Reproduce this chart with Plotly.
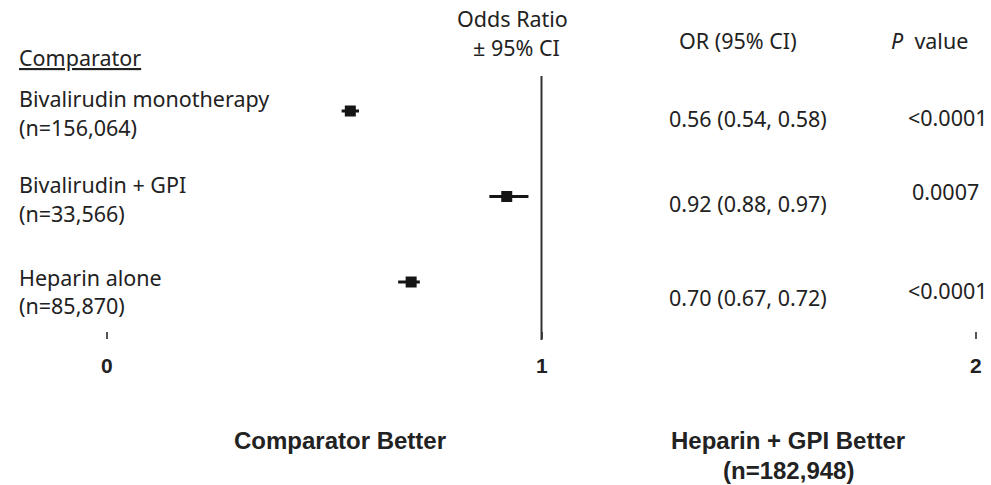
import plotly.graph_objects as go

# ---- data ----
comparators = ["Bivalirudin monotherapy", "Bivalirudin + GPI", "Heparin alone"]
n_labels = ["(n=156,064)", "(n=33,566)", "(n=85,870)"]
odds = [0.56, 0.92, 0.70]
ci_low = [0.54, 0.88, 0.67]
ci_high = [0.58, 0.97, 0.72]
p_values = ["<0.0001", "0.0007", "<0.0001"]
tick_vals = [0, 1, 2]
tick_text = ["0", "1", "2"]

W, H = 991, 485
FONT = "Noto Sans, Open Sans, sans-serif"
BOLDF = "Liberation Sans, Arial, sans-serif"
INK = "#222222"
FS = 21.5

# pixel layout helpers
X0_PX, X_UNIT = 107.0, 434.5
ROW0_PX, ROW_STEP = 111.0, 85.5
x_range = [-X0_PX / X_UNIT, (W - X0_PX) / X_UNIT]
y_range = [(H - ROW0_PX) / ROW_STEP, -ROW0_PX / ROW_STEP]

def px(x):
    return x / W

def py(y):
    return 1 - y / H

rows = list(range(len(comparators)))

fig = go.Figure()
fig.add_trace(go.Scatter(
    x=odds, y=rows, mode="markers",
    marker=dict(symbol="square", size=11, color="#151515"),
    error_x=dict(type="data", symmetric=False,
                 array=[h - o for h, o in zip(ci_high, odds)],
                 arrayminus=[o - l for o, l in zip(odds, ci_low)],
                 thickness=3, width=0, color="#151515"),
    showlegend=False, hoverinfo="skip",
))

# reference line at OR = 1
fig.add_shape(type="line", xref="x", yref="paper", x0=1, x1=1,
              y0=py(340), y1=py(76), line=dict(color="#333333", width=2))

ann = []
def add(text, x, y, size=FS, xa="left", fam=FONT, xref="paper", **kw):
    ann.append(dict(text=text, x=px(x) if xref == "paper" else x, y=py(y),
                    xref=xref, yref="paper",
                    xanchor=xa, yanchor="middle", showarrow=False,
                    font=dict(family=fam, size=size, color=INK, **kw)))

# headers
ann.append(dict(text="Comparator", x=px(17), y=py(57), xref="paper", yref="paper",
                xanchor="left", yanchor="middle", showarrow=False,
                font=dict(family=FONT, size=FS, color=INK, lineposition="under")))
add("Odds Ratio", 512, 19, xa="center")
add("± 95% CI", 562, 48, xa="right")
add("OR (95% CI)", 738, 40, xa="center")
add("<i>P</i>  value", 929, 40, xa="center")

label1_y = [99, 184, 277]
label2_y = [128, 213, 305]
or_y = [118, 203, 297]
p_y = [117, 192, 290]
p_x = [906, 910, 906]

for i in rows:
    add(comparators[i], 17, label1_y[i])
    add(n_labels[i], 17, label2_y[i])
    add(f"{odds[i]:.2f} ({ci_low[i]:.2f}, {ci_high[i]:.2f})", 748, or_y[i], xa="center")
    add(p_values[i], p_x[i], p_y[i])

# x tick labels (drawn at data x positions)
for v, t in zip(tick_vals, tick_text):
    add(f"<b>{t}</b>", v, 365, size=21, xa="center", fam=BOLDF, xref="x")

# bottom labels
add("<b>Comparator Better</b>", 340, 440, size=24, xa="center", fam=BOLDF)
add("<b>Heparin + GPI Better</b>", 788, 440, size=24, xa="center", fam=BOLDF)
add("<b>(n=182,948)</b>", 788, 470, size=24, xa="center", fam=BOLDF)

fig.update_layout(
    width=W, height=H, margin=dict(l=0, r=0, t=0, b=0),
    paper_bgcolor="white", plot_bgcolor="white",
    annotations=ann,
    xaxis=dict(range=x_range, showgrid=False, zeroline=False, showline=False,
               tickmode="array", tickvals=tick_vals, showticklabels=False,
               ticks="outside", ticklen=7, tickwidth=2, tickcolor="#555",
               anchor="free", position=py(331), fixedrange=True),
    yaxis=dict(range=y_range, visible=False, fixedrange=True),
)

fig.write_html("out.html")
